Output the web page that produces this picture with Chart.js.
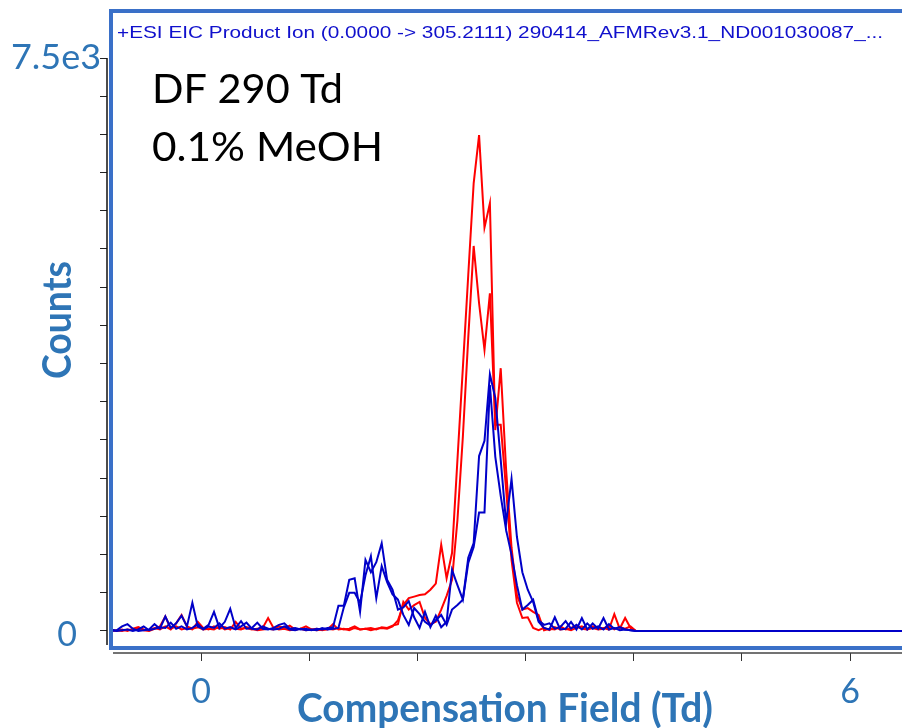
<!DOCTYPE html>
<html>
<head>
<meta charset="utf-8">
<script src="https://cdn.jsdelivr.net/npm/chart.js@4.4.1/dist/chart.umd.min.js"></script>
<style>
html,body{margin:0;padding:0;background:#ffffff;}
canvas{display:block;}
</style>
</head>
<body>
<canvas id="c" width="902" height="728"></canvas>
<script>
// ---- Data ----
const compField = [
 -0.83,-0.78,-0.73,-0.68,-0.63,-0.58,-0.53,-0.48,-0.43,-0.38,
 -0.33,-0.28,-0.23,-0.18,-0.13,-0.08,-0.03,0.02,0.07,0.12,
 0.17,0.22,0.27,0.32,0.37,0.42,0.47,0.52,0.57,0.62,
 0.67,0.72,0.77,0.82,0.87,0.92,0.97,1.02,1.07,1.12,
 1.17,1.22,1.27,1.32,1.37,1.42,1.47,1.52,1.57,1.62,
 1.67,1.72,1.77,1.82,1.87,1.92,1.97,2.02,2.07,2.12,
 2.17,2.22,2.27,2.32,2.37,2.42,2.47,2.52,2.57,2.62,
 2.67,2.72,2.77,2.82,2.87,2.92,2.97,3.02,3.07,3.12,
 3.17,3.22,3.27,3.32,3.37,3.42,3.47,3.52,3.57,3.62,
 3.67,3.72,3.77,3.82,3.87,3.92,3.97,4.02,
 6.5
];
const redA = [
 0,10,0,20,10,40,10,0,30,60,
 190,30,60,20,40,20,120,40,20,60,
 30,50,20,120,30,40,20,30,40,170,
 40,20,30,10,20,30,10,20,10,20,
 20,90,20,30,10,40,20,30,10,30,
 40,30,60,140,340,430,450,470,480,540,
 620,1130,690,1020,2240,3440,4660,5860,6490,5280,
 5600,2630,3440,2110,1090,470,280,300,250,210,
 10,30,20,60,20,40,70,30,20,60,
 30,40,20,220,30,170,40,0,
 0
];
const redB = [
 10,0,20,0,30,50,20,10,40,20,
 60,20,100,210,60,30,50,20,30,20,
 60,20,40,30,20,50,30,10,20,30,
 20,60,40,70,20,30,60,20,30,10,
 30,20,40,20,30,60,20,30,40,20,
 50,40,70,90,380,280,340,380,170,90,
 120,280,460,670,1450,2540,3840,5040,4290,3680,
 4420,2700,2700,1850,930,370,170,180,40,10,
 40,10,50,20,30,10,40,60,20,40,
 20,30,70,20,50,30,60,0,
 0
];
const blueA = [
 0,10,60,90,30,0,10,20,90,30,
 190,40,100,200,60,370,60,30,80,250,
 40,120,290,40,130,30,40,110,30,20,
 40,80,100,30,40,20,30,10,30,20,
 40,50,330,330,670,690,250,930,770,900,
 1150,670,540,280,310,390,180,40,250,50,
 200,50,120,800,600,410,960,1150,2290,2490,
 3360,3050,2240,1410,1990,1230,770,540,380,120,
 40,20,180,20,30,120,20,170,20,100,
 30,170,20,40,10,20,10,0,
 0
];
const blueB = [
 20,0,10,20,0,20,60,10,30,50,
 40,110,30,60,20,40,90,20,60,40,
 100,30,50,20,60,110,30,20,60,30,
 20,30,60,20,10,30,10,20,10,40,
 20,30,40,310,500,500,370,730,980,430,
 850,640,480,410,210,80,300,220,120,70,
 140,210,80,280,340,410,890,1100,1550,1550,
 3220,2280,1770,1320,1000,600,280,340,410,140,
 80,100,30,50,130,30,80,20,100,30,
 60,20,90,30,50,20,10,0,
 0
];
const xTicks = [0,1,2,3,4,5,6];
const xTickLabels = ['0','','','','','','6'];
const yTicks = [0,500,1000,1500,2000,2500,3000,3500,4000,4500,5000,5500,6000,6500,7000,7500];
const yTickLabels = ['0','','','','','','','','','','','','','','','7.5e3'];
const plotTitle = '+ESI EIC Product Ion (0.0000 -> 305.2111) 290414_AFMRev3.1_ND001030087_...';
const noteLines = ['DF 290 Td', '0.1% MeOH'];
const xTitle = 'Compensation Field (Td)';
const yTitle = 'Counts';

// ---- Styles ----
const RED = '#ff0000';
const BLUE = '#0000c8';
const AXIS_TEXT = '#2e75b6';
const BOX = '#3a70c8';

function xy(arr){ return compField.map((x,i)=>({x:x, y:arr[i]})); }

function fitText(ctx, text, x, y, font, width, color, rotate){
  ctx.save();
  ctx.font = font;
  ctx.fillStyle = color;
  ctx.textAlign = 'left';
  ctx.textBaseline = 'middle';
  const w = ctx.measureText(text).width;
  const s = width / w;
  ctx.translate(x, y);
  if (rotate) ctx.rotate(rotate);
  ctx.scale(s, 1);
  ctx.fillText(text, 0, 0);
  ctx.restore();
}

const overlay = {
  id: 'overlay',
  afterDatasetsDraw(chart){
    const ctx = chart.ctx;
    const xs = chart.scales.x, ys = chart.scales.y;
    // axis lines (gap at the corner as in the reference)
    ctx.save();
    ctx.lineWidth = 1.5;
    ctx.strokeStyle = '#111111';
    ctx.beginPath();
    ctx.moveTo(107, ys.getPixelForValue(7500));
    ctx.lineTo(107, 645);
    ctx.stroke();
    ctx.strokeStyle = '#444444';
    ctx.beginPath();
    ctx.moveTo(113, 653);
    ctx.lineTo(902, 653);
    ctx.stroke();
    // frame
    ctx.strokeStyle = BOX;
    ctx.lineWidth = 4;
    ctx.strokeRect(111, 11, 900, 637);
    ctx.restore();
  },
  afterDraw(chart){
    const ctx = chart.ctx;
    const xs = chart.scales.x, ys = chart.scales.y;
    // header
    fitText(ctx, plotTitle, 117, 33, '17px "Liberation Sans", Arial, sans-serif', 766, '#1010cc');
    // notes
    fitText(ctx, noteLines[0], 152, 90, '40px Lato, sans-serif', 191, '#000000');
    fitText(ctx, noteLines[1], 152, 148, '40px Lato, sans-serif', 231, '#000000');
    // axis titles
    fitText(ctx, xTitle, 297, 709, 'bold 40px Lato, sans-serif', 416, AXIS_TEXT);
    fitText(ctx, yTitle, 58, 379, 'bold 40px Lato, sans-serif', 118, AXIS_TEXT, -Math.PI/2);
    // y tick labels
    ctx.save();
    ctx.fillStyle = AXIS_TEXT;
    ctx.textBaseline = 'middle';
    yTicks.forEach((v,i)=>{
      const lab = yTickLabels[i];
      if (!lab) return;
      const py = ys.getPixelForValue(v);
      if (v === 0) {
        ctx.font = '34px Lato, sans-serif';
        ctx.textAlign = 'center';
        ctx.fillText(lab, 67, py + 4);
      } else {
        fitText(ctx, lab, 11, py, '34px Lato, sans-serif', 90, AXIS_TEXT);
      }
    });
    // x tick labels
    ctx.font = '34px Lato, sans-serif';
    ctx.textAlign = 'center';
    xTicks.forEach((v,i)=>{
      const lab = xTickLabels[i];
      if (!lab) return;
      ctx.fillText(lab, xs.getPixelForValue(v), 692);
    });
    ctx.restore();
  }
};

const lineDs = (label, arr, color) => ({
  label: label, data: xy(arr), borderColor: color, backgroundColor: color,
  borderWidth: 2, pointRadius: 0, tension: 0, fill: false
});

new Chart(document.getElementById('c').getContext('2d'), {
  type: 'line',
  data: {
    datasets: [
      lineDs('blue A', blueA, BLUE),
      lineDs('blue B', blueB, BLUE),
      lineDs('red A', redA, RED),
      lineDs('red B', redB, RED)
    ]
  },
  options: {
    responsive: false,
    animation: false,
    devicePixelRatio: 1,
    layout: { padding: { top: 58, left: 0, right: 0, bottom: 0 } },
    plugins: { legend: { display: false }, tooltip: { enabled: false }, title: { display: false } },
    scales: {
      x: {
        type: 'linear', position: 'bottom', min: -0.869, max: 6.479,
        afterBuildTicks: s => { s.ticks = xTicks.map(v => ({ value: v })); },
        afterFit: s => { s.height = 75; },
        grid: { drawOnChartArea: false, drawTicks: true, tickLength: 8, color: '#333333', tickColor: '#333333', lineWidth: 1 },
        border: { display: false },
        ticks: { display: false }
      },
      y: {
        type: 'linear', position: 'left', min: -288, max: 7500,
        afterBuildTicks: s => { s.ticks = yTicks.map(v => ({ value: v })); },
        afterFit: s => { s.width = 107; },
        grid: { drawOnChartArea: false, drawTicks: true, tickLength: 7, color: '#222222', tickColor: '#222222', lineWidth: 1 },
        border: { display: false },
        ticks: { display: false }
      }
    }
  },
  plugins: [overlay]
});
</script>
</body>
</html>
